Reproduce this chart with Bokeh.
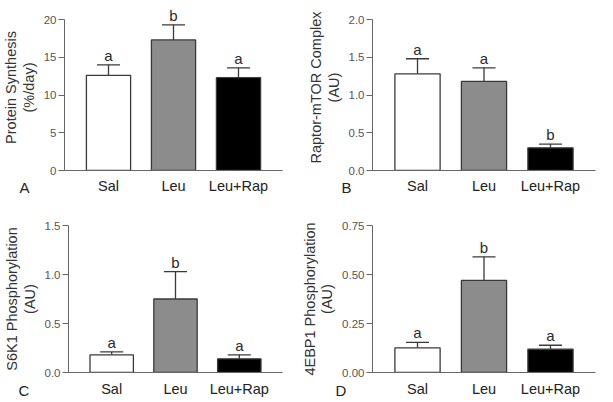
from bokeh.plotting import figure
from bokeh.models import (ColumnDataSource, FactorRange, FixedTicker, Whisker, TeeHead,
                          LabelSet, Title, PrintfTickFormatter)
from bokeh.core.properties import value
from bokeh.layouts import column, row
from bokeh.embed import file_html
from bokeh.resources import INLINE

categories = ["Sal", "Leu", "Leu+Rap"]
fills = ["#ffffff", "#8c8c8c", "#000000"]

protein_mean = [12.6, 17.3, 12.3]
protein_sem = [1.4, 2.0, 1.3]
protein_sig = ["a", "b", "a"]

raptor_mean = [1.28, 1.18, 0.30]
raptor_sem = [0.20, 0.18, 0.05]
raptor_sig = ["a", "a", "b"]

s6k1_mean = [0.18, 0.75, 0.14]
s6k1_sem = [0.03, 0.28, 0.04]
s6k1_sig = ["a", "b", "a"]

ebp_mean = [0.126, 0.47, 0.119]
ebp_sem = [0.028, 0.12, 0.02]
ebp_sig = ["a", "b", "a"]

FONT = "Liberation Sans"


def panel(mean, sem, sig, ymax, ticks, fmt, ylabel, letter, width, height,
          bl, br, bt, bb, headroom, xstand, loff, lstand):
    upper = [m + s for m, s in zip(mean, sem)]
    src = ColumnDataSource(dict(cat=categories, top=mean, upper=upper, sig=sig, fill=fills))
    frame_h = height - bt - bb
    y_end = ymax * frame_h / (frame_h - headroom)
    p = figure(x_range=FactorRange(factors=categories, range_padding=0.118,
                                   range_padding_units="percent"),
               y_range=(0, y_end), width=width, height=height,
               output_backend="svg", toolbar_location=None,
               min_border_left=bl, min_border_right=br, min_border_top=bt,
               min_border_bottom=bb)
    p.outline_line_color = None
    p.grid.grid_line_color = None
    p.background_fill_color = "white"
    p.border_fill_color = "white"

    p.vbar(x="cat", top="top", width=0.68, source=src, fill_color="fill",
           line_color="#3a3a3a", line_width=1.3)
    w = Whisker(base="cat", lower="top", upper="upper", source=src,
                line_color="#3a3a3a", line_width=1.3,
                upper_head=TeeHead(size=23, line_color="#3a3a3a", line_width=1.3),
                lower_head=None)
    p.add_layout(w)
    ls = LabelSet(x="cat", y="upper", text="sig", source=src, y_offset=4,
                  text_align="center", text_baseline="alphabetic",
                  text_font=value(FONT), text_font_size="15px", text_color="#2a2a2a")
    p.add_layout(ls)

    p.yaxis.bounds = (0, ymax)
    p.yaxis.ticker = FixedTicker(ticks=ticks)
    p.yaxis.formatter = PrintfTickFormatter(format=fmt)
    p.yaxis.axis_label = ylabel
    p.yaxis.axis_label_text_font = FONT
    p.yaxis.axis_label_text_font_style = "normal"
    p.yaxis.axis_label_text_font_size = "14.5px"
    p.yaxis.axis_label_text_color = "#333333"
    p.yaxis.axis_label_text_line_height = 1.1
    p.yaxis.axis_label_standoff = 4
    p.yaxis.major_label_text_font = FONT
    p.yaxis.major_label_text_font_size = "11.5px"
    p.yaxis.major_label_text_color = "#555555"
    p.yaxis.major_label_standoff = 2
    p.yaxis.major_tick_out = 6
    p.yaxis.major_tick_in = 0
    p.yaxis.minor_tick_out = 0
    p.yaxis.minor_tick_in = 0
    p.yaxis.axis_line_color = "#666666"
    p.yaxis.major_tick_line_color = "#666666"

    p.xaxis.major_tick_out = 0
    p.xaxis.major_tick_in = 0
    p.xaxis.axis_line_color = "#666666"
    p.xaxis.major_label_text_font = FONT
    p.xaxis.major_label_text_font_size = "14.5px"
    p.xaxis.major_label_text_color = "#222222"
    p.xaxis.major_label_standoff = xstand

    t = Title(text=letter, align="left", offset=loff, standoff=lstand,
              vertical_align="top",
              text_font=FONT, text_font_size="15px", text_font_style="normal",
              text_color="#222222")
    p.add_layout(t, "below")
    return p


pa = panel(protein_mean, protein_sem, protein_sig, 20, [0, 5, 10, 15, 20], "%d",
           "Protein Synthesis\n(%/day)", "A", 297, 196, 55, 15, 4, 26, 15, 7, -45, -35)
pb = panel(raptor_mean, raptor_sem, raptor_sig, 2.0, [0, 0.5, 1.0, 1.5, 2.0], "%.1f",
           "Raptor-mTOR Complex\n(AU)", "B", 300, 196, 75, 2, 4, 26, 15, 7, -31, -35)
pc = panel(s6k1_mean, s6k1_sem, s6k1_sig, 1.5, [0, 0.5, 1.0, 1.5], "%.1f",
           "S6K1 Phosphorylation\n(AU)", "C", 297, 203, 55, 15, 29, 26, 0, 8, -50, -36)
pd = panel(ebp_mean, ebp_sem, ebp_sig, 0.75, [0, 0.25, 0.5, 0.75], "%.2f",
           "4EBP1 Phosphorylation\n(AU)", "D", 300, 203, 75, 2, 29, 26, 0, 8, -37, -36)

layout = column(row(pa, pb), row(pc, pd))
open("out.html", "w").write(file_html(layout, INLINE))
